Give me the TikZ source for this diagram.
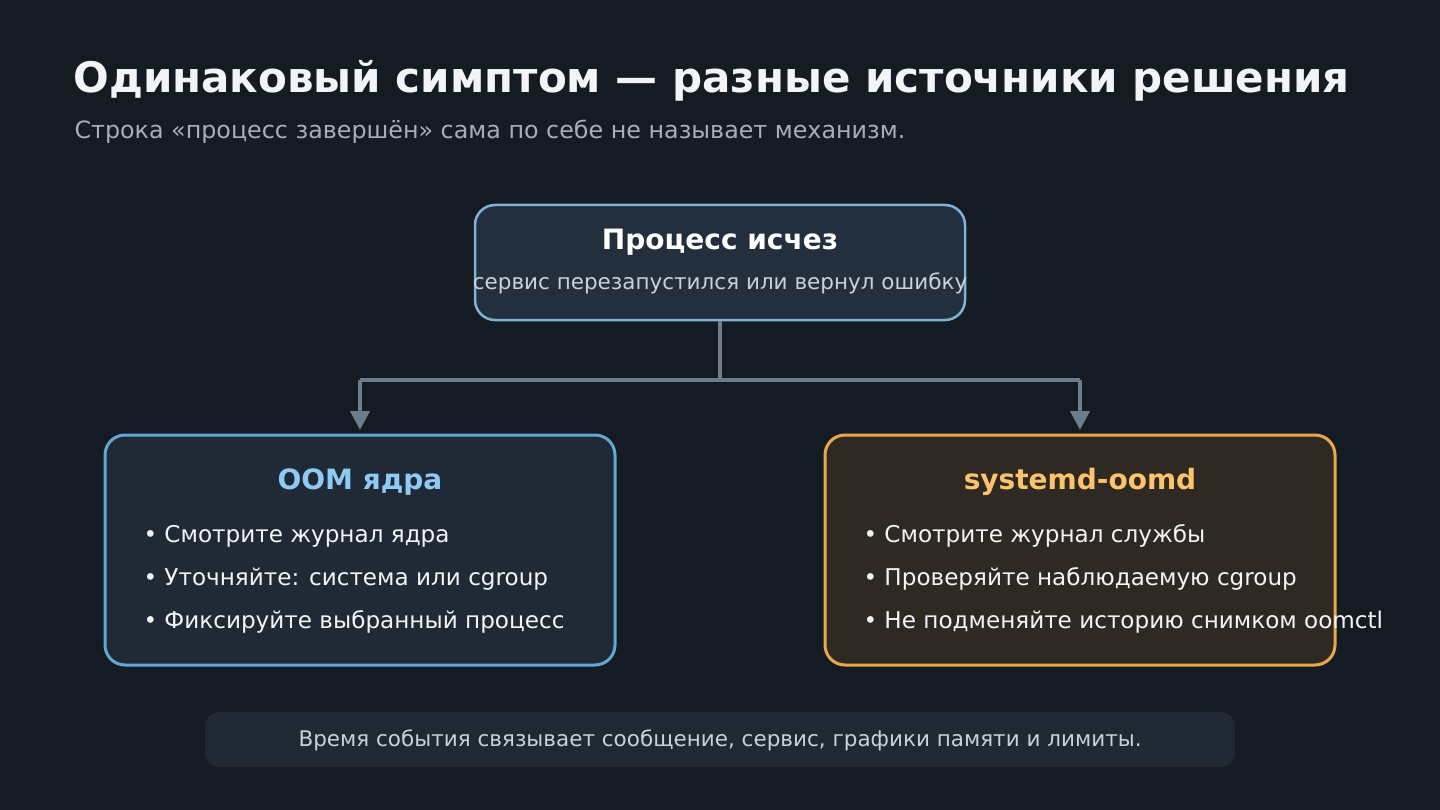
\documentclass[tikz,border=0pt]{standalone}
\usepackage{fontspec}
\setmainfont{DejaVu Sans}
\usetikzlibrary{arrows.meta}
\definecolor{bg}{HTML}{151B23}
\definecolor{topfill}{HTML}{232F3C}
\definecolor{topline}{HTML}{7FB2D6}
\definecolor{lfill}{HTML}{1F2A36}
\definecolor{lline}{HTML}{5FA8D6}
\definecolor{rfill}{HTML}{2E2A23}
\definecolor{rline}{HTML}{E8A84A}
\definecolor{ltitle}{HTML}{8FCAF5}
\definecolor{rtitle}{HTML}{FFC36B}
\definecolor{conn}{HTML}{6B7C8A}
\definecolor{foot}{HTML}{1F2833}
\definecolor{sub}{HTML}{A4AFBB}
\definecolor{txt}{HTML}{F2F4F7}
\definecolor{muted}{HTML}{C9D1DA}
\begin{document}
\begin{tikzpicture}[x=1pt,y=-1pt,
  box/.style={draw,rounded corners=20pt,line width=3pt},
  fs/.style={font=\fontsize{#1}{#1}\selectfont},
  bullet/.style={anchor=west,text=txt,fs=23.1},
  link/.style={conn,line width=4pt},
  tip/.style={-{Triangle[length=19pt,width=19pt]}}]
\fill[bg] (0,0) rectangle (1440,810);
\useasboundingbox (0,0) rectangle (1440,810);
\node[anchor=base west,text=txt,font=\bfseries\fontsize{42}{42}\selectfont] (title) at (70,93) {Одинаковый симптом — разные источники решения};
\node[anchor=base west,text=sub,fs=23.8] (subt) at (71,139) {Строка «процесс завершён» сама по себе не называет механизм.};
\draw[box,line width=2.5pt,draw=topline,fill=topfill] (475,205) rectangle (965,320);
\node[text=white,font=\bfseries\fontsize{28}{28}\selectfont] (t1) at (720,242) {Процесс исчез};
\node[text=muted,fs=21.5] (t2) at (720,283) {сервис перезапустился или вернул ошибку};
\coordinate (top) at (720,321);
\coordinate (mid) at (720,380);
\coordinate (lc) at (360,380);
\coordinate (rc) at (1080,380);
\coordinate (la) at (360,430);
\coordinate (ra) at (1080,430);
\draw[link] (top) -- (mid) -- (lc);
\draw[link] (mid) -- (rc);
\draw[link,tip] (lc) -- (la);
\draw[link,tip] (rc) -- (ra);
\draw[box,draw=lline,fill=lfill] (105,435) rectangle (615,665);
\draw[box,draw=rline,fill=rfill] (825,435) rectangle (1335,665);
\node[text=ltitle,font=\bfseries\fontsize{28}{28}\selectfont] (lt) at (360,482) {OOM ядра};
\node[text=rtitle,font=\bfseries\fontsize{28}{28}\selectfont] (rt) at (1080,482) {systemd-oomd};
\node[bullet] (l1) at (140,536) {• Смотрите журнал ядра};
\node[bullet] (l2) at (140,579) {• Уточняйте: система или cgroup};
\node[bullet] (l3) at (140,622) {• Фиксируйте выбранный процесс};
\node[bullet] (r1) at (860,536) {• Смотрите журнал службы};
\node[bullet] (r2) at (860,579) {• Проверяйте наблюдаемую cgroup};
\node[bullet] (r3) at (860,622) {• Не подменяйте историю снимком oomctl};
\fill[foot,rounded corners=14pt] (205,712) rectangle (1235,767);
\node[text=muted,fs=21.5] (ft) at (720,740) {Время события связывает сообщение, сервис, графики памяти и лимиты.};
\end{tikzpicture}
\end{document}
